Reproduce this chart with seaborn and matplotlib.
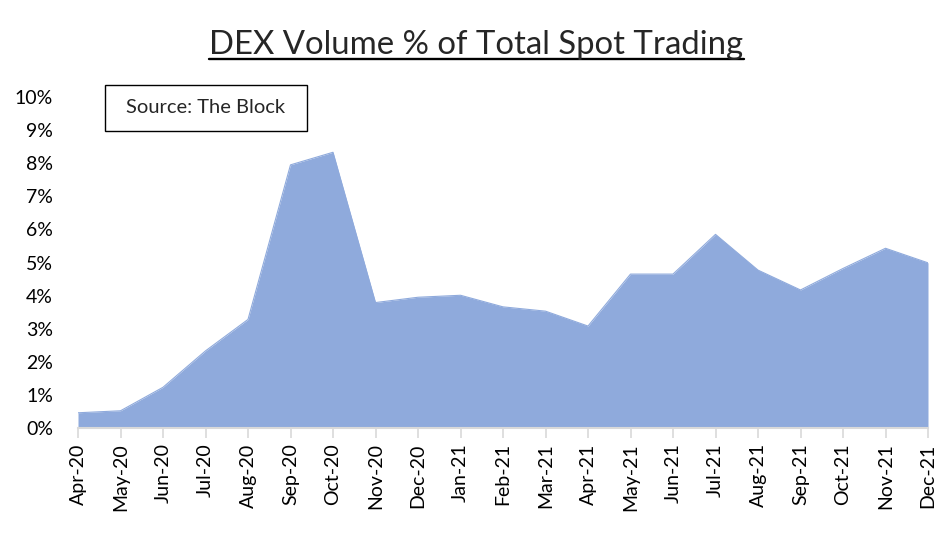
import matplotlib
matplotlib.use("Agg")
import matplotlib.pyplot as plt
from matplotlib.lines import Line2D
from matplotlib.patches import Rectangle
from matplotlib.ticker import PercentFormatter
import numpy as np
import pandas as pd
import seaborn as sns

# data
months = ["Apr-20", "May-20", "Jun-20", "Jul-20", "Aug-20", "Sep-20", "Oct-20",
          "Nov-20", "Dec-20", "Jan-21", "Feb-21", "Mar-21", "Apr-21", "May-21",
          "Jun-21", "Jul-21", "Aug-21", "Sep-21", "Oct-21", "Nov-21", "Dec-21"]
dex_share = [0.46, 0.52, 1.23, 2.33, 3.28, 7.95, 8.33, 3.79, 3.95, 4.01, 3.66,
             3.53, 3.08, 4.65, 4.65, 5.85, 4.77, 4.17, 4.82, 5.43, 4.99]
y_ticks = [0, 1, 2, 3, 4, 5, 6, 7, 8, 9, 10]

df = pd.DataFrame({"month": months, "share": np.array(dex_share) / 100})
df["pos"] = np.arange(len(df))

sns.set_theme(style="white")
plt.rcParams["font.family"] = ["Lato", "DejaVu Sans"]

fill_color = "#8FAADC"
grey = "#D9D9D9"

fig = plt.figure(figsize=(9.53, 5.36), dpi=100)
ax = fig.add_axes([78 / 953, 1 - 428 / 536, 850 / 953, 331 / 536])

sns.lineplot(data=df, x="pos", y="share", color=fill_color, linewidth=0.8, ax=ax)
ax.fill_between(df["pos"], df["share"], color=fill_color, linewidth=0)

ax.set_xlim(0, len(df) - 1)
ax.set_ylim(0, 0.10)
ax.set_yticks(np.array(y_ticks) / 100)
ax.yaxis.set_major_formatter(PercentFormatter(1.0, decimals=0))
ax.set_xticks(df["pos"])
ax.set_xticklabels(df["month"], rotation=90)
ax.set_xlabel("")
ax.set_ylabel("")

for s in ["left", "right", "top"]:
    ax.spines[s].set_visible(False)
ax.spines["bottom"].set_color(grey)
ax.spines["bottom"].set_linewidth(1.5)
ax.tick_params(axis="x", bottom=True, length=7, width=1.2, color=grey,
               labelsize=14, pad=4, labelcolor="black")
ax.tick_params(axis="y", left=False, labelsize=14, pad=12, labelcolor="black")

# source box
ax.add_patch(Rectangle((0.0318, 0.897), 0.2376, 0.139, transform=ax.transAxes,
                       facecolor="white", edgecolor="black", linewidth=1,
                       clip_on=False, zorder=5))
ax.text(0.1506, 0.967, "Source: The Block", transform=ax.transAxes,
        fontsize=14.5, ha="center", va="center", zorder=6)

# underlined title
title = fig.text(0.5, 1 - 45 / 536, "DEX Volume % of Total Spot Trading",
                 fontsize=23.7, ha="center", va="center")
fig.canvas.draw()
bb = title.get_window_extent().transformed(fig.transFigure.inverted())
uy = 1 - 59 / 536
fig.add_artist(Line2D([bb.x0, bb.x1], [uy, uy], color="black", linewidth=1.7,
                      transform=fig.transFigure))

fig.savefig("out.png", dpi=100)
